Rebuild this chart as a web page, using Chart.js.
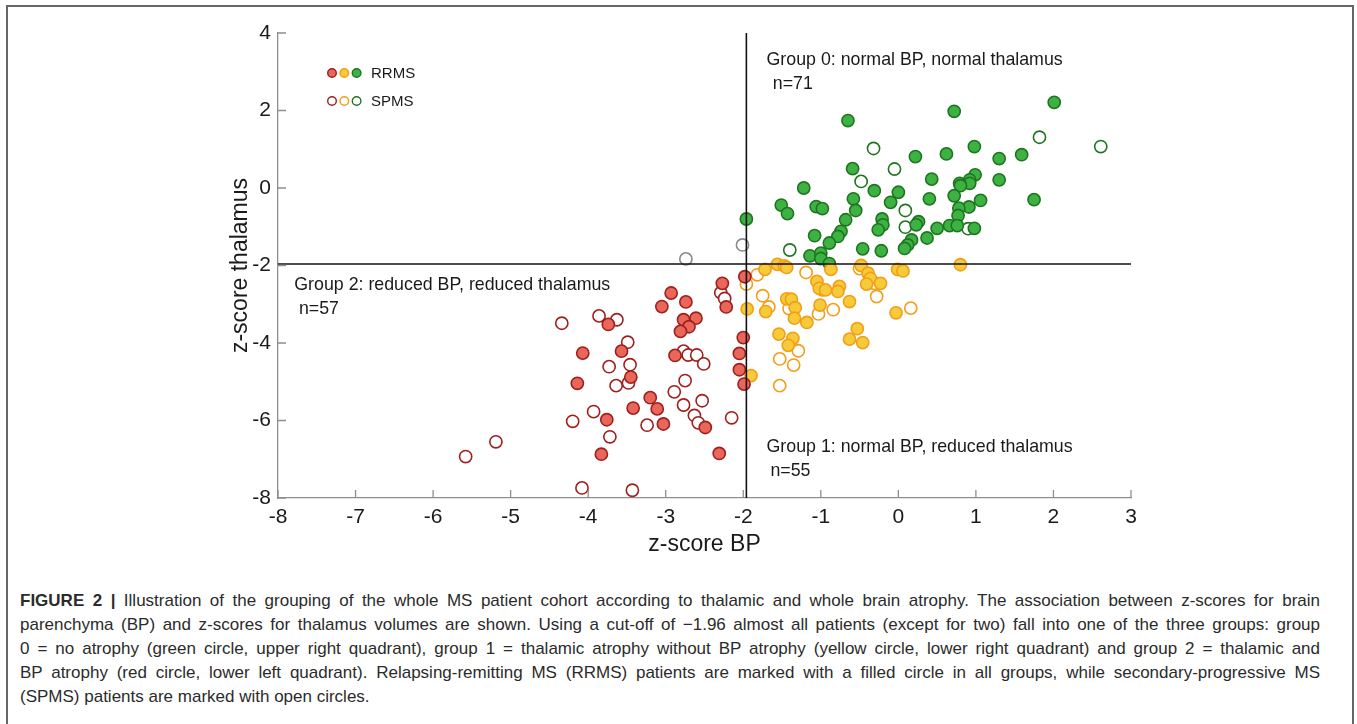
<!DOCTYPE html>
<html><head><meta charset="utf-8">
<script src="https://cdn.jsdelivr.net/npm/chart.js@4.4.1/dist/chart.umd.min.js"></script>
<style>
html,body{margin:0;padding:0;background:#fff;width:1357px;height:724px;overflow:hidden;}
#frame{position:absolute;left:6px;top:5px;width:1348px;height:740px;border:2px solid #666;box-sizing:border-box;}
#wrap{position:absolute;left:0;top:0;width:1357px;height:570px;}
#cap{position:absolute;left:20px;top:589px;width:1300px;font-family:"Liberation Sans",Arial,Helvetica,sans-serif;font-size:17px;line-height:24px;color:#2b2b2b;}
#cap div{white-space:nowrap;text-align:justify;text-align-last:justify;}
#cap div.last{text-align-last:left;}
</style></head>
<body>
<div id="frame"></div>
<div id="wrap"><canvas id="c" width="1357" height="570"></canvas></div>
<div id="cap">
<div><b>FIGURE 2 |</b> Illustration of the grouping of the whole MS patient cohort according to thalamic and whole brain atrophy. The association between z-scores for brain</div>
<div>parenchyma (BP) and z-scores for thalamus volumes are shown. Using a cut-off of −1.96 almost all patients (except for two) fall into one of the three groups: group</div>
<div>0 = no atrophy (green circle, upper right quadrant), group 1 = thalamic atrophy without BP atrophy (yellow circle, lower right quadrant) and group 2 = thalamic and</div>
<div>BP atrophy (red circle, lower left quadrant). Relapsing-remitting MS (RRMS) patients are marked with a filled circle in all groups, while secondary-progressive MS</div>
<div class="last">(SPMS) patients are marked with open circles.</div>
</div>
<script>
// ---- data ----
const xTickValues = [-8,-7,-6,-5,-4,-3,-2,-1,0,1,2,3];
const xTickLabels = ['-8','-7','-6','-5','-4','-3','-2','-1','0','1','2','3'];
const yTickValues = [-8,-6,-4,-2,0,2,4];
const yTickLabels = ['-8','-6','-4','-2','0','2','4'];
const cutoff = -1.96;

// group 2 (red), RRMS filled
const redRRMS_x = [-3.74,-4.07,-3.57,-3.45,-4.14,-3.20,-3.42,-3.11,-3.76,-3.83,-1.98,-2.27,-2.22,-2.93,-3.05,-2.74,-2.61,-2.77,-2.70,-2.81,-2.00,-2.05,-2.88,-2.05,-1.99,-3.03,-2.49,-2.31];
const redRRMS_y = [-3.52,-4.26,-4.21,-4.88,-5.04,-5.41,-5.68,-5.70,-5.98,-6.87,-2.29,-2.46,-3.07,-2.71,-3.06,-2.94,-3.36,-3.40,-3.58,-3.70,-3.86,-4.27,-4.32,-4.69,-5.06,-6.09,-6.18,-6.85];
// group 2 (red), SPMS open
const redSPMS_x = [-4.34,-3.86,-3.63,-3.49,-3.73,-3.46,-3.64,-3.48,-3.93,-4.20,-3.72,-3.24,-5.19,-5.58,-4.08,-3.43,-2.29,-2.24,-2.77,-2.71,-2.60,-2.51,-2.75,-2.89,-2.53,-2.77,-2.63,-2.58,-2.15];
const redSPMS_y = [-3.49,-3.30,-3.40,-3.98,-4.61,-4.56,-5.10,-5.03,-5.77,-6.02,-6.42,-6.12,-6.55,-6.93,-7.74,-7.80,-2.70,-2.85,-4.21,-4.31,-4.31,-4.54,-4.97,-5.26,-5.49,-5.60,-5.87,-6.06,-5.93];
// group 1 (yellow), RRMS filled
const yelRRMS_x = [-1.56,-1.47,-1.44,-1.72,-0.87,-0.48,-0.39,-0.36,-0.41,-0.23,-0.01,0.06,-1.05,-1.02,-0.94,-0.76,-0.78,-0.63,-1.44,-1.38,-1.33,-1.95,-1.71,-1.34,-1.18,-1.01,-0.03,-1.54,-1.36,-1.42,-0.53,-0.63,-0.46,-1.90,0.80];
const yelRRMS_y = [-1.97,-2.01,-2.05,-2.10,-2.10,-2.00,-2.20,-2.33,-2.48,-2.46,-2.10,-2.14,-2.41,-2.59,-2.63,-2.54,-2.67,-2.93,-2.86,-2.87,-3.09,-3.12,-3.19,-3.36,-3.47,-3.02,-3.22,-3.77,-3.88,-4.06,-3.63,-3.90,-3.99,-4.84,-1.98];
// group 1 (yellow), SPMS open
const yelSPMS_x = [-1.82,-1.96,-1.19,-0.50,-0.31,-0.98,-1.75,-0.28,-1.67,-1.41,-0.84,-1.03,0.16,-1.29,-1.53,-1.35,-1.53];
const yelSPMS_y = [-2.24,-2.48,-2.18,-2.08,-2.46,-2.63,-2.78,-2.80,-3.07,-3.11,-3.14,-3.25,-3.10,-4.20,-4.41,-4.57,-5.10];
// group 0 (green), RRMS filled
const grnRRMS_x = [-0.65,0.22,0.43,-0.59,-1.22,-0.31,0.00,0.40,-0.58,-0.10,-1.51,-1.43,-1.06,-0.98,-0.55,-1.96,-0.68,-0.21,-0.20,-0.26,0.26,0.23,0.50,-1.08,-0.74,-0.78,-0.89,0.37,0.17,0.12,0.08,-0.46,-0.22,-1.14,-1.00,-1.00,-0.89,0.72,2.01,0.98,0.62,1.30,1.59,1.30,0.99,0.92,0.92,0.79,0.80,0.72,1.06,0.91,0.78,0.77,1.75,0.66,0.76,0.98];
const grnRRMS_y = [1.74,0.81,0.23,0.50,0.00,-0.07,-0.11,-0.28,-0.28,-0.37,-0.44,-0.66,-0.48,-0.53,-0.58,-0.80,-0.82,-0.80,-0.95,-1.08,-0.87,-0.95,-1.04,-1.23,-1.12,-1.25,-1.42,-1.29,-1.34,-1.47,-1.56,-1.57,-1.62,-1.75,-1.68,-1.82,-1.95,1.98,2.21,1.07,0.88,0.76,0.86,0.21,0.34,0.21,0.12,0.12,0.06,-0.20,-0.32,-0.49,-0.52,-0.71,-0.30,-0.97,-0.97,-1.04];
// group 0 (green), SPMS open
const grnSPMS_x = [-0.32,-0.05,-0.48,0.09,0.09,-1.40,1.82,2.61,0.90];
const grnSPMS_y = [1.02,0.49,0.17,-0.58,-1.01,-1.60,1.31,1.07,-1.05];
// unassigned (gray, open)
const grayX = [-2.74,-2.01];
const grayY = [-1.83,-1.47];

const annTexts = ['Group 0: normal BP, normal thalamus','n=71','Group 2: reduced BP, reduced thalamus','n=57','Group 1: normal BP, reduced thalamus','n=55'];
const annX = [-1.70,-1.62,-7.79,-7.73,-1.70,-1.65];
const annY = [3.31,2.69,-2.50,-3.12,-6.68,-7.30];

// ---- helpers ----
const FONT = '"Liberation Sans", Arial, Helvetica, sans-serif';
const pts = (xs, ys) => xs.map((x, i) => ({x, y: ys[i]}));
const RED_F='#e9665b', RED_E='#a01f1c', YEL_F='#f6cb3a', YEL_E='#f49d16', GRN_F='#3db243', GRN_E='#1d761f';

function scat(data, fill, edge) {
  return {type:'scatter', data, backgroundColor: fill, borderColor: edge, borderWidth: 1.6,
    pointRadius: 6.1, pointHoverRadius: 6.1, order: 1};
}

const inwardTicks = {
  id: 'inwardTicks',
  afterDraw(chart) {
    const {ctx, chartArea: a, scales: {x, y}} = chart;
    ctx.save();
    ctx.strokeStyle = '#8f8f8f'; ctx.lineWidth = 1.3;
    ctx.beginPath();
    xTickValues.forEach(v => { const p = x.getPixelForValue(v); ctx.moveTo(p, a.bottom); ctx.lineTo(p, a.bottom - 8); });
    yTickValues.forEach(v => { const p = y.getPixelForValue(v); ctx.moveTo(a.left, p); ctx.lineTo(a.left + 8, p); });
    ctx.stroke();
    ctx.restore();
  }
};

const annotate = {
  id: 'annotate',
  afterDraw(chart) {
    const {ctx, chartArea: a, scales: {x, y}} = chart;
    ctx.save();
    ctx.fillStyle = '#1a1a1a'; ctx.textAlign = 'left'; ctx.textBaseline = 'middle';
    ctx.font = '17.8px ' + FONT;
    annTexts.forEach((t, i) => ctx.fillText(t, x.getPixelForValue(annX[i]), y.getPixelForValue(annY[i])));
    // legend
    const lx = a.left + 54, ly1 = a.top + 40, ly2 = a.top + 68, r = 4.3, gap = 12.3;
    const cols = [[RED_F, RED_E], [YEL_F, YEL_E], [GRN_F, GRN_E]];
    cols.forEach((c, i) => {
      ctx.lineWidth = 1.4;
      ctx.beginPath(); ctx.arc(lx + i * gap, ly1, r, 0, Math.PI * 2);
      ctx.fillStyle = c[0]; ctx.fill(); ctx.strokeStyle = c[1]; ctx.stroke();
      ctx.beginPath(); ctx.arc(lx + i * gap, ly2, r, 0, Math.PI * 2);
      ctx.fillStyle = '#fff'; ctx.fill(); ctx.strokeStyle = c[1]; ctx.stroke();
    });
    ctx.fillStyle = '#1a1a1a'; ctx.font = '15px ' + FONT;
    ctx.fillText('RRMS', lx + 39, ly1 + 1);
    ctx.fillText('SPMS', lx + 39, ly2 + 1);
    ctx.restore();
  }
};

new Chart(document.getElementById('c'), {
  data: {
    datasets: [
      {type:'line', data:[{x:cutoff,y:-8},{x:cutoff,y:4}], borderColor:'#111', borderWidth:1.6, pointRadius:0, order:0},
      {type:'line', data:[{x:-8,y:cutoff},{x:3,y:cutoff}], borderColor:'#111', borderWidth:1.6, pointRadius:0, order:0},
      scat(pts(grayX, grayY), '#fff', '#8a8a8a'),
      scat(pts(redRRMS_x, redRRMS_y), RED_F, RED_E),
      scat(pts(redSPMS_x, redSPMS_y), '#fff', RED_E),
      scat(pts(yelRRMS_x, yelRRMS_y), YEL_F, YEL_E),
      scat(pts(yelSPMS_x, yelSPMS_y), '#fff', YEL_E),
      scat(pts(grnRRMS_x, grnRRMS_y), GRN_F, GRN_E),
      scat(pts(grnSPMS_x, grnSPMS_y), '#fff', GRN_E)
    ]
  },
  options: {
    responsive: false, animation: false, devicePixelRatio: 1,
    layout: {padding: {left: 223, top: 33, right: 226, bottom: 8}},
    plugins: {legend: {display: false}, tooltip: {enabled: false}},
    scales: {
      x: {type: 'linear', min: -8, max: 3,
        afterFit(s) { s.height = 64; },
        afterBuildTicks(s) { s.ticks = xTickValues.map(v => ({value: v})); },
        ticks: {padding: 7, color: '#1a1a1a', font: {family: FONT, size: 21}, maxRotation: 0,
          callback: v => xTickLabels[xTickValues.indexOf(v)]},
        grid: {display: false, drawTicks: false},
        border: {display: true, color: '#8f8f8f', width: 1.3},
        title: {display: true, text: 'z-score BP', color: '#1a1a1a', font: {family: FONT, size: 23}, padding: {top: 4, bottom: 4}}
      },
      y: {type: 'linear', min: -8, max: 4,
        afterFit(s) { s.width = 55; },
        afterBuildTicks(s) { s.ticks = yTickValues.map(v => ({value: v})); },
        ticks: {padding: 7, color: '#1a1a1a', font: {family: FONT, size: 21},
          callback: v => yTickLabels[yTickValues.indexOf(v)]},
        grid: {display: false, drawTicks: false},
        border: {display: true, color: '#8f8f8f', width: 1.3},
        title: {display: true, text: 'z-score thalamus', color: '#1a1a1a', font: {family: FONT, size: 23}, padding: {top: 4, bottom: 4}}
      }
    }
  },
  plugins: [inwardTicks, annotate]
});
</script>
</body></html>
